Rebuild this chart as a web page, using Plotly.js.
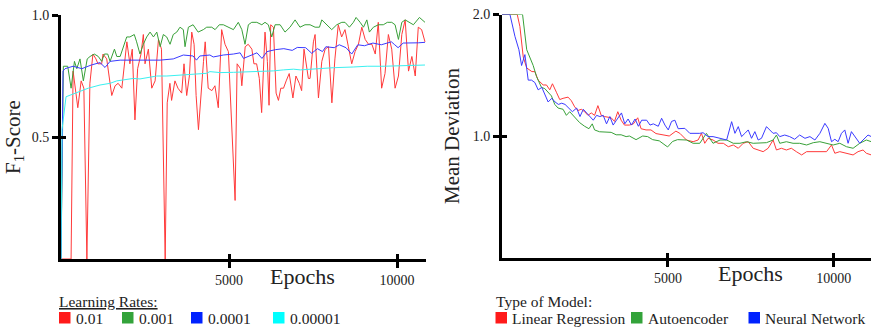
<!DOCTYPE html>
<html>
<head>
<meta charset="utf-8">
<script src="https://cdn.plot.ly/plotly-3.0.1.min.js"></script>
<style>
html,body{margin:0;padding:0;background:#fff;}
#chart{width:871px;height:331px;}
#chart text{font-family:'Liberation Serif', serif !important;}
</style>
</head>
<body>
<div id="chart"></div>
<script>
// ---------- data ----------
const learningRates = ['0.01', '0.001', '0.0001', '0.00001'];
const modelTypes = ['Linear Regression', 'Autoencoder', 'Neural Network'];
const epochTicks = [5000, 10000];
const epochTickLabels = ['5000', '10000'];
const f1Ticks = [0.5, 1.0];
const f1TickLabels = ['0.5', '1.0'];
const devTicks = [1.0, 2.0];
const devTickLabels = ['1.0', '2.0'];

// Left panel: F1-score per learning rate
const lr1Epochs = [0,300,360,500,600,680,770,860,950,1040,1100,1210,1250,1360,1510,1610,1700,1810,1960,2050,2120,2200,2280,2380,2450,2500,2600,2700,2800,2900,2990,3100,3160,3240,3290,3390,3480,3590,3660,3740,3820,3890,3960,4020,4090,4160,4240,4290,4380,4490,4580,4680,4780,4880,4980,5180,5240,5340,5380,5480,5570,5680,5740,5820,5900,5970,6070,6140,6190,6240,6320,6400,6470,6540,6620,6700,6790,6900,6990,7090,7160,7230,7290,7360,7410,7510,7560,7610,7660,7760,7860,7960,8060,8150,8250,8350,8450,8550,8650,8750,8850,8950,9050,9150,9250,9350,9440,9540,9640,9740,9840,9940,10040,10140,10240,10340,10440,10540,10630,10730,10830];
const lr1F1 = [0,0,0.77,0.62,0.73,0.70,0,0.72,0.84,0.82,0.80,0.80,0.84,0.82,0.67,0.71,0.72,0.70,0.89,0.80,0.86,0.57,0.78,0.84,0.92,0.80,0.86,0.70,0.73,0.90,0.86,0,0.64,0.72,0.65,0.73,0.70,0.68,0.80,0.67,0.75,0.93,0.88,0.67,0.53,0.68,0.81,0.89,0.70,0.69,0.71,0.62,0.94,0.88,0.85,0.24,0.80,0.78,0.71,0.87,0.88,0.86,0.80,0.80,0.74,0.60,0.93,0.81,0.63,0.96,0.95,0.68,0.65,0.70,0.70,0.73,0.76,0.66,0.75,0.72,0.69,0.86,0.80,0.74,0.74,0.89,0.92,0.78,0.66,0.81,0.86,0.87,0.64,0.82,0.96,0.91,0.94,0.87,0.80,0.85,0.88,0.95,0.90,0.88,0.88,0.84,0.97,0.70,0.76,0.92,0.86,0.70,0.75,0.92,0.98,0.77,0.83,0.75,0.95,0.94,0.89];

const lr2Epochs = [0,70,200,300,400,470,565,665,780,865,990,1110,1210,1290,1390,1460,1590,1660,1760,1850,1955,2050,2180,2250,2350,2450,2550,2650,2750,2850,2950,3045,3145,3245,3340,3445,3540,3640,3690,3790,3930,4080,4235,4335,4485,4585,4710,4830,4980,5130,5275,5380,5475,5575,5675,5825,5975,6070,6170,6270,6370,6520,6665,6815,6965,7110,7260,7410,7560,7690,7760,7910,8055,8205,8355,8450,8580,8700,8780,8900,9000,9100,9175,9295,9445,9590,9710,9840,9940,10040,10140,10240,10385,10485,10665,10830];
const lr2F1 = [0,0.79,0.79,0.70,0.81,0.78,0.82,0.73,0.82,0.83,0.84,0.83,0.81,0.84,0.84,0.81,0.86,0.83,0.83,0.87,0.91,0.91,0.92,0.89,0.84,0.88,0.91,0.93,0.91,0.93,0.87,0.92,0.91,0.88,0.92,0.93,0.95,0.94,0.87,0.95,0.96,0.93,0.94,0.95,0.95,0.94,0.96,0.96,0.95,0.94,0.97,0.94,0.88,0.96,0.97,0.97,0.96,0.97,0.96,0.91,0.96,0.96,0.93,0.95,0.98,0.95,0.96,0.96,0.95,0.95,0.98,0.96,0.94,0.96,0.97,0.97,0.95,0.97,0.99,0.97,0.95,0.98,0.93,0.95,0.96,0.96,0.97,0.97,0.96,0.90,0.97,0.98,0.97,0.96,0.99,0.97];

const lr3Epochs = [0,60,120,360,620,900,1160,1310,1460,1760,2350,2950,3340,3640,3930,4030,4130,4430,4530,4830,5130,5330,5430,5630,5830,5980,6130,6380,6630,6880,7030,7280,7460,7630,7780,7880,8130,8280,8480,8650,8830,9030,9280,9530,9830,9930,10030,10180,10430,10630,10830];
const lr3F1 = [0,0.77,0.78,0.79,0.78,0.795,0.805,0.785,0.81,0.815,0.815,0.815,0.82,0.836,0.832,0.815,0.832,0.836,0.828,0.836,0.84,0.845,0.822,0.835,0.845,0.822,0.85,0.858,0.862,0.855,0.867,0.866,0.843,0.862,0.85,0.87,0.866,0.878,0.866,0.84,0.878,0.874,0.885,0.878,0.89,0.878,0.866,0.885,0.884,0.886,0.888];

const lr4Epochs = [0,30,150,330,610,810,1160,1460,1660,1850,2150,2350,2650,2850,3150,3540,3930,4330,4430,4730,5130,5920,6320,6620,6920,7120,7620,8110,8710,8910,9110,9610,10110,10830];
const lr4F1 = [0,0.53,0.665,0.675,0.69,0.70,0.713,0.72,0.73,0.735,0.74,0.738,0.745,0.75,0.75,0.754,0.758,0.761,0.768,0.764,0.765,0.768,0.771,0.775,0.778,0.775,0.781,0.784,0.787,0.79,0.79,0.79,0.792,0.795];

// Right panel: mean deviation per model type
const linRegEpochs = [0,460,540,640,745,900,990,1090,1240,1340,1440,1520,1640,1740,1840,1990,2090,2190,2290,2390,2490,2590,2690,2790,2890,2990,3090,3290,3390,3490,3590,3690,3840,3960,4090,4190,4340,4490,4640,4840,5040,5240,5360,5560,5760,5910,6010,6110,6210,6360,6510,6670,6820,6970,7120,7270,7420,7570,7720,7870,8020,8170,8270,8420,8570,8720,8870,9030,9180,9380,9580,9780,9930,10030,10180,10380,10580,10730,10880,10980,11130];
const linRegDev = [2.0,2.0,1.90,1.65,1.56,1.53,1.53,1.46,1.42,1.42,1.38,1.43,1.36,1.30,1.31,1.32,1.29,1.24,1.21,1.22,1.20,1.17,1.19,1.17,1.25,1.17,1.16,1.15,1.12,1.20,1.13,1.09,1.09,1.10,1.15,1.06,1.05,1.05,1.02,1.01,1.00,1.04,1.022,0.967,0.953,0.967,1.022,0.94,0.981,0.967,0.94,0.94,0.912,0.926,0.899,0.94,0.953,0.899,0.885,0.871,0.899,0.967,0.885,0.899,0.885,0.899,0.871,0.844,0.871,0.871,0.875,0.871,0.926,0.858,0.871,0.858,0.844,0.871,0.885,0.858,0.844];

const autoEncEpochs = [0,620,745,850,940,1040,1090,1190,1290,1420,1490,1590,1690,1840,1940,2040,2140,2240,2340,2490,2620,2720,2790,2940,3140,3290,3440,3590,3740,3840,4040,4240,4390,4540,4740,4990,5140,5290,5560,5760,5960,6160,6360,6570,6770,6970,7170,7370,7570,7770,7970,8170,8270,8370,8570,8770,8970,9180,9380,9580,9780,9980,10180,10380,10580,10780,10980,11130];
const autoEncDev = [2.0,2.0,1.71,1.64,1.58,1.49,1.46,1.40,1.39,1.35,1.33,1.26,1.23,1.22,1.17,1.20,1.17,1.14,1.11,1.08,1.06,1.10,1.05,1.035,1.03,1.03,1.01,1.01,0.995,1.00,0.97,1.00,0.995,0.97,0.96,0.91,0.955,0.97,0.967,0.94,0.94,1.022,0.94,0.967,0.967,0.94,0.94,0.953,0.94,0.94,0.945,0.967,1.008,0.94,0.953,0.94,0.94,0.926,0.945,0.953,0.94,0.926,0.94,0.912,0.899,0.94,0.967,0.953];

const neuralNetEpochs = [0,240,390,510,590,690,790,890,990,1090,1200,1300,1390,1500,1600,1700,1800,1900,2000,2120,2250,2350,2450,2550,2650,2750,2850,2950,3050,3150,3250,3350,3450,3600,3700,3800,3900,4010,4110,4210,4360,4460,4560,4710,4810,4910,5010,5110,5210,5310,5510,5660,5960,6060,6210,6360,6570,6770,6920,7020,7120,7220,7320,7420,7520,7620,7720,7820,7970,8070,8170,8270,8370,8520,8670,8820,8970,9130,9280,9430,9580,9730,9830,9930,10030,10130,10230,10330,10430,10530,10630,10780,10880,11030,11130];
const neuralNetDev = [2.0,2.0,1.82,1.71,1.58,1.67,1.46,1.46,1.44,1.38,1.40,1.34,1.28,1.31,1.28,1.26,1.27,1.26,1.23,1.20,1.23,1.16,1.22,1.19,1.16,1.13,1.17,1.16,1.17,1.10,1.16,1.09,1.13,1.19,1.10,1.14,1.09,1.14,1.08,1.13,1.13,1.09,1.10,1.08,1.146,1.09,1.05,1.12,1.13,1.06,1.063,1.022,1.022,1.027,0.995,0.995,0.981,0.967,1.118,1.022,1.077,0.995,1.022,1.05,0.981,1.036,0.967,0.981,1.077,1.05,1.022,1.027,0.995,1.008,0.995,0.973,1.008,0.981,0.995,0.967,1.022,1.104,1.063,0.953,0.973,0.953,1.022,1.05,0.94,1.036,0.995,0.94,0.967,1.008,0.995];

// ---------- styling ----------
const FONT = 'Liberation Serif, serif';
const lrLineColors = ['#ff3a3a', '#38a038', '#3a3aff', '#3af0f0'];
const lrBoxColors = ['#ff1a1a', '#33a33a', '#0022ff', '#00ffff'];
const modelLineColors = ['#ff3a3a', '#38a038', '#3a3aff'];
const modelBoxColors = ['#ff1a1a', '#33a33a', '#0022ff'];

const W = 871, H = 331;
const px = v => v / W;
const py = v => 1 - v / H;

const lrSeries = [[lr1Epochs, lr1F1], [lr2Epochs, lr2F1], [lr3Epochs, lr3F1], [lr4Epochs, lr4F1]];
const modelSeries = [[linRegEpochs, linRegDev], [autoEncEpochs, autoEncDev], [neuralNetEpochs, neuralNetDev]];

const traces = [];
lrSeries.forEach((s, i) => traces.push({
  type: 'scatter', mode: 'lines', x: s[0], y: s[1], name: learningRates[i],
  xaxis: 'x', yaxis: 'y', showlegend: false, hoverinfo: 'skip',
  line: {color: lrLineColors[i], width: 1}
}));
modelSeries.forEach((s, i) => traces.push({
  type: 'scatter', mode: 'lines', x: s[0], y: s[1], name: modelTypes[i],
  xaxis: 'x2', yaxis: 'y2', showlegend: false, hoverinfo: 'skip',
  line: {color: modelLineColors[i], width: 1}
}));
// empty helper traces so the inner-tick overlay axes are drawn
[['x3', 'y'], ['x', 'y3'], ['x4', 'y2'], ['x2', 'y4']].forEach(p => traces.push({
  type: 'scatter', mode: 'lines', x: [], y: [], xaxis: p[0], yaxis: p[1], showlegend: false, hoverinfo: 'skip'
}));

const tickFont = {family: FONT, size: 14, color: '#222'};
function mainAxis(extra) {
  return Object.assign({
    showline: true, linecolor: '#000', linewidth: 3,
    ticks: 'outside', ticklen: 6, tickwidth: 3, tickcolor: '#000',
    showgrid: false, zeroline: false, tickfont: tickFont,
    tickmode: 'array', automargin: false, fixedrange: true
  }, extra);
}
function innerTickAxis(extra) {
  return Object.assign({
    showline: false, ticks: 'inside', ticklen: 5, tickwidth: 3, tickcolor: '#000',
    showgrid: false, zeroline: false, showticklabels: false,
    tickmode: 'array', automargin: false, fixedrange: true
  }, extra);
}

const leftX = [px(61), px(426)];
const leftY = [py(259), py(15)];
const rightX = [px(502), 1];
const rightY = [py(257.5), py(14.5)];
const leftXRange = [0, 10860];
const rightXRange = [0, 11120];

const layout = {
  width: W, height: H,
  margin: {l: 0, r: 0, t: 0, b: 0},
  paper_bgcolor: '#fff', plot_bgcolor: '#fff',
  showlegend: false,
  font: {family: FONT, color: '#222'},
  xaxis: mainAxis({domain: leftX, range: leftXRange, anchor: 'y', tickvals: epochTicks, ticktext: epochTickLabels}),
  yaxis: mainAxis({domain: leftY, range: [0, 1], anchor: 'x', tickvals: f1Ticks, ticktext: f1TickLabels,
    title: {text: 'F<sub>1</sub>-Score', font: {family: FONT, size: 21, color: '#222'}, standoff: 6}}),
  xaxis2: mainAxis({domain: rightX, range: rightXRange, anchor: 'y2', tickvals: epochTicks, ticktext: epochTickLabels}),
  yaxis2: mainAxis({domain: rightY, range: [0, 2], anchor: 'x2', tickvals: devTicks, ticktext: devTickLabels,
    title: {text: 'Mean Deviation', font: {family: FONT, size: 21, color: '#222'}, standoff: 8}}),
  xaxis3: innerTickAxis({overlaying: 'x', anchor: 'y', range: leftXRange, tickvals: epochTicks}),
  yaxis3: innerTickAxis({overlaying: 'y', anchor: 'x', range: [0, 1], tickvals: f1Ticks}),
  xaxis4: innerTickAxis({overlaying: 'x2', anchor: 'y2', range: rightXRange, tickvals: epochTicks}),
  yaxis4: innerTickAxis({overlaying: 'y2', anchor: 'x2', range: [0, 2], tickvals: devTicks}),
  shapes: [],
  annotations: []
};

// x-axis titles
layout.annotations.push({text: 'Epochs', xref: 'paper', yref: 'paper', x: px(302), y: py(276),
  xanchor: 'center', yanchor: 'middle', showarrow: false, font: {family: FONT, size: 22, color: '#222'}});
layout.annotations.push({text: 'Epochs', xref: 'paper', yref: 'paper', x: px(750), y: py(273),
  xanchor: 'center', yanchor: 'middle', showarrow: false, font: {family: FONT, size: 22, color: '#222'}});

// legends
const legFont = {family: FONT, size: 15.5, color: '#222'};
function legendTitle(text, x) {
  layout.annotations.push({text: text, xref: 'paper', yref: 'paper', x: px(x), y: py(301),
    xanchor: 'left', yanchor: 'middle', showarrow: false, font: legFont});
}
function legendItem(label, color, boxX, textX) {
  layout.shapes.push({type: 'rect', xref: 'paper', yref: 'paper',
    x0: px(boxX), x1: px(boxX + 11.5), y0: py(323.5), y1: py(312), fillcolor: color, line: {width: 0}});
  layout.annotations.push({text: label, xref: 'paper', yref: 'paper', x: px(textX), y: py(318),
    xanchor: 'left', yanchor: 'middle', showarrow: false, font: legFont});
}
legendTitle('<u>Learning Rates:</u>', 57);
const lrBoxX = [59, 122, 191, 273];
const lrTextX = [74, 137, 205.5, 288];
learningRates.forEach((l, i) => legendItem(l, lrBoxColors[i], lrBoxX[i], lrTextX[i]));
legendTitle('Type of Model:', 494);
const mBoxX = [495.5, 631, 748.5];
const mTextX = [510, 645.5, 762.5];
modelTypes.forEach((l, i) => legendItem(l, modelBoxColors[i], mBoxX[i], mTextX[i]));

Plotly.newPlot('chart', traces, layout, {staticPlot: true, displayModeBar: false});
</script>
</body>
</html>
